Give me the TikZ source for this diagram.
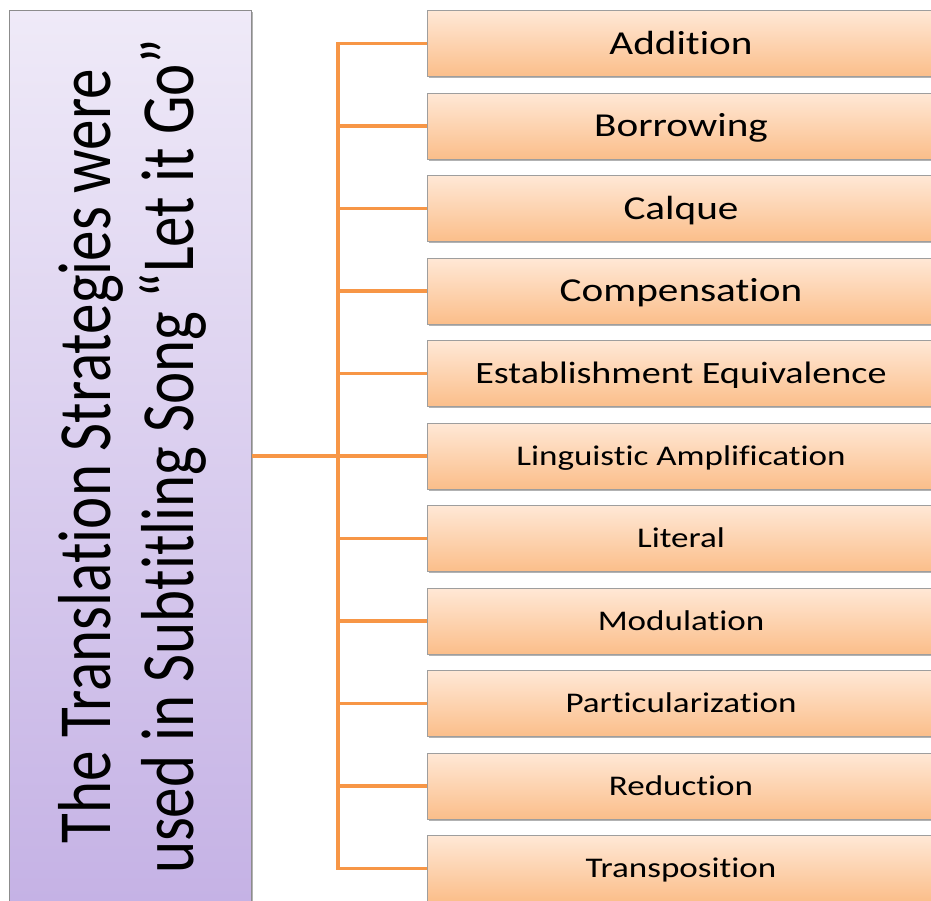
\documentclass[tikz,border=0pt]{standalone}
\usepackage{fontspec}
\setmainfont[Ligatures=NoCommon]{Carlito}
\newfontfamily\boxfont[FakeStretch=1.23,Ligatures=NoCommon]{Carlito}
\usetikzlibrary{shadows}
\definecolor{conncol}{HTML}{F79646}
\definecolor{orangetop}{HTML}{FFE8D6}
\definecolor{orangebot}{HTML}{FBBE8A}
\definecolor{purpletop}{HTML}{EFEAF8}
\definecolor{purplebot}{HTML}{C5B2E5}
\begin{document}
\begin{tikzpicture}[x=1pt,y=-1pt,
  conn/.style={draw=conncol, line width=3.3pt},
  softshadow/.style={drop shadow={shadow xshift=1.8pt, shadow yshift=-1.8pt, opacity=0.3, fill=black}},
  mainbox/.style={draw=black!45, line width=1pt, top color=purpletop, bottom color=purplebot,
    minimum width=241.5pt, minimum height=891pt, inner sep=0pt, softshadow},
  titletext/.style={rotate=90, inner sep=0pt, font=\fontsize{61}{67.5}\selectfont},
  stratbox/.style={draw=black!38, line width=1pt, top color=orangetop, bottom color=orangebot,
    minimum width=508pt, minimum height=66pt, inner sep=0pt, text depth=0pt, softshadow},
  bigtxt/.style={font=\boxfont\fontsize{33.5}{40}\selectfont, text height=21.2pt},
  midtxt/.style={font=\boxfont\fontsize{31}{37}\selectfont, text height=19.6pt},
  smalltxt/.style={font=\boxfont\fontsize{28.5}{34}\selectfont, text height=18pt}
]
\clip (0,0) rectangle (931,900);
\node[mainbox] (main) at (130.25,456) {};
\node[titletext] (title) at ([xshift=5pt]main.center)
  {\scalebox{1}[1.23]{\begin{tabular}{@{}c@{}}The Translation Strategies were\\used in Subtitling Song “Let it Go”\end{tabular}}};
\foreach \t/\s [count=\k from 0] in {Addition/bigtxt, Borrowing/bigtxt, Calque/bigtxt,
    Compensation/bigtxt, Establishment Equivalence/midtxt, Linguistic Amplification/smalltxt,
    Literal/smalltxt, Modulation/smalltxt, Particularization/smalltxt, Reduction/smalltxt,
    Transposition/smalltxt}
  \node[stratbox,\s] (b\k) at (681,{43.5+82.5*\k}) {\t};
\coordinate (spine) at (338,456);
\draw[conn] (main.east) -- (b5.west);
\draw[conn] (b0.west) -| (spine) |- (b10.west);
\foreach \k in {1,...,9}
  \draw[conn] (b\k.west) -- (b\k.west -| spine);
\end{tikzpicture}
\end{document}
